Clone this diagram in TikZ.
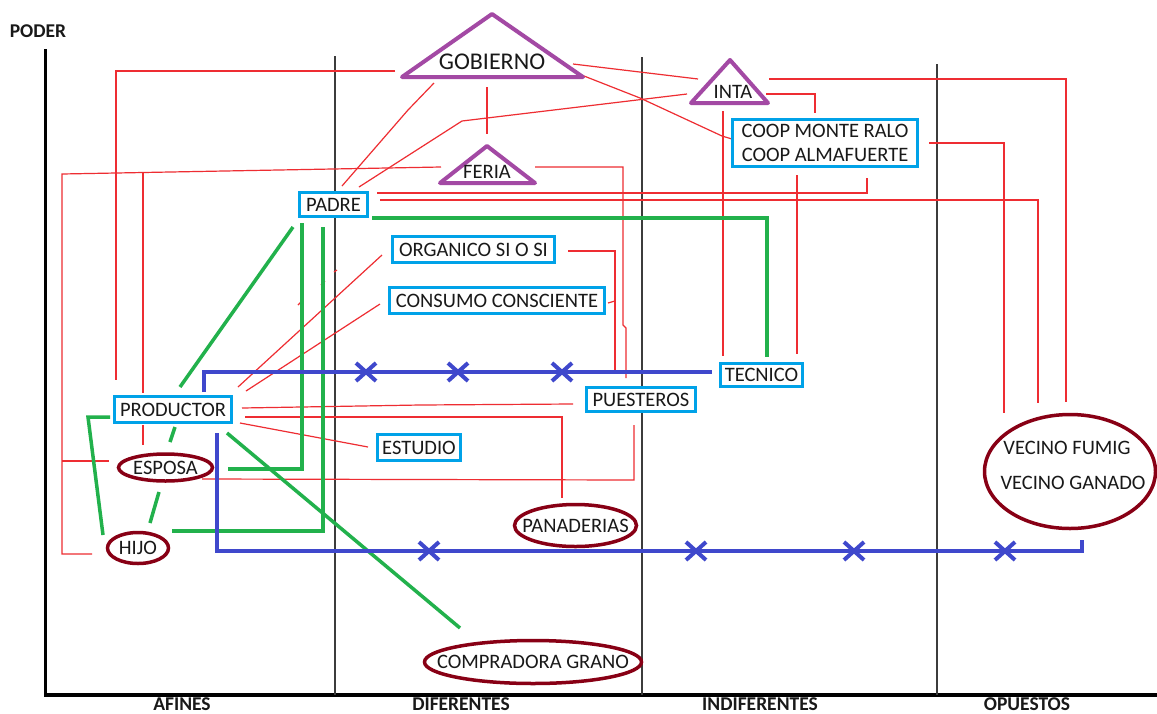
\documentclass[tikz,border=0pt]{standalone}
\usepackage{fontspec}
\setmainfont{Carlito}
\usetikzlibrary{shapes.geometric}
\definecolor{redl}{RGB}{238,45,50}
\definecolor{grn}{RGB}{34,177,76}
\definecolor{blu}{RGB}{63,72,204}
\definecolor{boxblue}{RGB}{0,162,232}
\definecolor{ellred}{RGB}{136,0,21}
\definecolor{purp}{RGB}{163,73,164}
\definecolor{txt}{RGB}{25,25,25}
\definecolor{sepc}{RGB}{60,60,60}
\newcommand\myfont{\fontsize{20.5}{24}\selectfont}
\begin{document}
\begin{tikzpicture}[x=1pt,y=-1pt,
  bluebox/.style={rectangle, draw=boxblue, fill=white, line width=3.5pt, inner sep=0pt, font=\myfont, text=txt},
  redell/.style={ellipse, draw=ellred, fill=white, line width=3.5pt, inner sep=0pt},
  lbl/.style={font=\myfont, text=txt},
  axlbl/.style={font=\fontsize{19.5}{22}\selectfont\bfseries, text=txt},
  tri/.style={draw=purp, fill=white, line width=4pt, line join=round},
  rl/.style={draw=redl, line width=1.2pt},
  gl/.style={draw=grn, line width=3.5pt},
  bl/.style={draw=blu, line width=4pt},
  every label/.style={font=\myfont, text=txt}]
\useasboundingbox (0,0) rectangle (1157,713);
\fill[white] (0,0) rectangle (1157,713);

% axes and column separators
\coordinate (yTop) at (45.5,49);
\coordinate (orig) at (45.5,695);
\coordinate (xEnd) at (1157,695);
\draw[line width=3.5pt] (yTop) -- (orig);
\draw[line width=3.5pt] (44,695) -- (xEnd);
\draw[sepc, line width=1.3pt] (335,56) -- (335,695);
\draw[sepc, line width=1.3pt] (642,57) -- (642,695);
\draw[sepc, line width=1.3pt] (937,64) -- (937,695);

\node[axlbl] (poder) at (38,31) {PODER};
\node[axlbl] (afines) at (182,704.5) {AFINES};
\node[axlbl] (dif) at (461,704.5) {DIFERENTES};
\node[axlbl] (indif) at (760,704.5) {INDIFERENTES};
\node[axlbl] (opu) at (1027,704.5) {OPUESTOS};

% red connectors
\draw[rl] (395,71) -- (116,71) -- (116,380);
\draw[rl] (441,167) -- (62,174) -- (62,554) -- (92,554);
\draw[rl] (62,461) -- (109,461);
\draw[rl] (143,172) -- (143,393);
\draw[rl] (143,425) -- (143,445);
\draw[rl] (434,83) -- (408,110) -- (342,186);
\draw[rl] (359,187) -- (462,121) -- (687,94);
\draw[rl] (573,64) -- (698,79);
\draw[rl] (584,76) -- (640,98) -- (722,136) -- (732,139);
\draw[rl] (487,87) -- (487,134);
\draw[rl] (535,167) -- (623,167) -- (623,325) -- (626,328) -- (626,378);
\draw[rl] (377,193) -- (867,193) -- (867,178);
\draw[rl] (380,200) -- (1038,200) -- (1038,403);
\draw[rl] (769,79) -- (1066,79) -- (1066,402);
\draw[rl] (766,94) -- (815,94) -- (815,113);
\draw[rl] (723,111) -- (723,356);
\draw[rl] (797,175) -- (797,354);
\draw[rl] (929,143) -- (1004,143) -- (1004,413);
\draw[rl] (568,251) -- (615,251) -- (615,373);
\draw[rl] (608,303) -- (615,301);
\draw[rl] (238,387) -- (382,255);
\draw[rl] (246,391) -- (380,304);
\draw[rl] (242,408) -- (420,405) -- (573,404);
\draw[rl] (245,417) -- (562,417) -- (562,498);
\draw[rl] (240,423) -- (368,447);
\draw[rl] (202,479) -- (634,480) -- (634,425);
\draw[rl] (298,305) -- (303,300);
\draw[rl] (321,285) -- (325,281);
\draw[rl] (334,272) -- (337,270);

% green connectors
\draw[gl] (372,218) -- (767,218) -- (767,357);
\draw[gl] (293,227) -- (180,387);
\draw[gl] (175,427) -- (170,442);
\draw[gl] (159,492) -- (150,523);
\draw[gl] (302,223) -- (302,469) -- (228,469);
\draw[gl] (323,227) -- (323,531) -- (172,531);
\draw[gl] (110,417) -- (88,417) -- (103,535);
\draw[gl] (227,433) -- (460,628);

% blue connectors with crosses
\draw[bl] (204,392) -- (204,372) -- (712,372);
\foreach \xx in {366,458,562} {
  \draw[bl] (\xx-10,363) -- (\xx+10,381) (\xx-10,381) -- (\xx+10,363);
}
\draw[bl] (217,433) -- (217,551) -- (1082,551) -- (1082,540);
\foreach \xx in {429,696,854,1005} {
  \draw[bl] (\xx-10,542) -- (\xx+10,560) (\xx-10,560) -- (\xx+10,542);
}

% triangles
\draw[tri] (492,14) -- (583,77) -- (402,77) -- cycle;
\node[lbl, font=\fontsize{24}{28}\selectfont] (gobierno) at (492,62) {GOBIERNO};
\draw[tri] (487,146) -- (535,183) -- (440,183) -- cycle;
\node[lbl] (feria) at (487,172) {FERIA};
\draw[tri] (730,60) -- (768,103) -- (691,103) -- cycle;
\node[lbl] (inta) at (733,92) {INTA};

% boxes
\node[bluebox, minimum width=68pt, minimum height=24pt] (padre) at (333.5,204.5) {PADRE};
\node[bluebox, minimum width=162pt, minimum height=26pt] (organico) at (473.5,249.5) {ORGANICO SI O SI};
\node[bluebox, minimum width=215pt, minimum height=26pt] (consumo) at (497,300.5) {CONSUMO CONSCIENTE};
\node[bluebox, minimum width=82pt, minimum height=23pt] (tecnico) at (761.5,375) {TECNICO};
\node[bluebox, minimum width=109pt, minimum height=24pt] (puesteros) at (641,399.5) {PUESTEROS};
\node[bluebox, minimum width=83pt, minimum height=26pt] (estudio) at (419,447.5) {ESTUDIO};
\node[bluebox, minimum width=117pt, minimum height=26pt] (productor) at (173,409.5) {PRODUCTOR};
\node[bluebox, minimum width=185pt, minimum height=47pt, align=center] (coop) at (825,143) {COOP MONTE RALO\\COOP ALMAFUERTE};

% ellipses
\node[redell, minimum width=94pt, minimum height=27pt, label={center:ESPOSA}] (esposa) at (165.5,467.5) {};
\node[redell, minimum width=61pt, minimum height=31pt, label={center:HIJO}] (hijo) at (138,548) {};
\node[redell, minimum width=122pt, minimum height=42pt, label={center:PANADERIAS}] (panaderias) at (575.5,525.5) {};
\node[redell, minimum width=217pt, minimum height=43pt, label={center:COMPRADORA GRANO}] (compradora) at (533,662) {};
\node[redell, minimum width=171pt, minimum height=114pt] (vecino) at (1070,471.5) {};
\node[lbl] (vfumig) at (1067,448) {VECINO FUMIG};
\node[lbl] (vganado) at (1073,483) {VECINO GANADO};
\end{tikzpicture}
\end{document}
